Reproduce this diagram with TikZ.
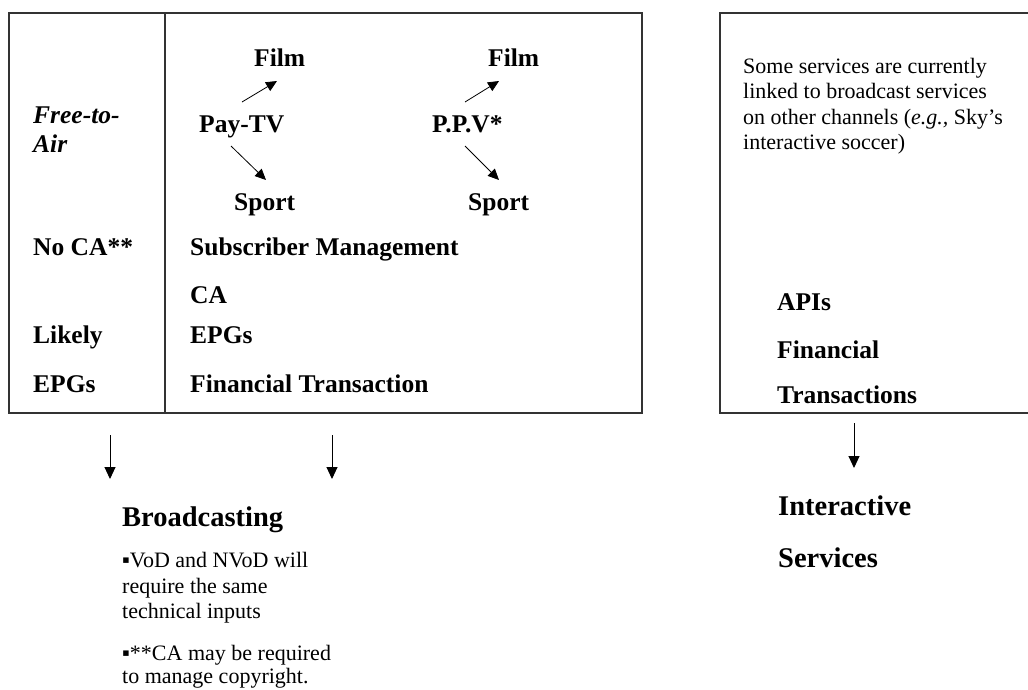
\documentclass[tikz,border=0pt]{standalone}
\usepackage{fontspec}
\setmainfont{Liberation Serif}
\usetikzlibrary{arrows.meta}
\begin{document}
\begin{tikzpicture}[x=1pt,y=-1pt,
  boxline/.style={draw=black!80, line width=1.6pt},
  bt/.style={anchor=base west, inner sep=0pt, font=\fontsize{25.5}{30}\selectfont\bfseries},
  bit/.style={anchor=base west, inner sep=0pt, font=\fontsize{25.5}{30}\selectfont\bfseries\itshape},
  big/.style={anchor=base west, inner sep=0pt, font=\fontsize{28.5}{32}\selectfont\bfseries},
  rt/.style={anchor=base west, inner sep=0pt, font=\fontsize{22}{25.5}\selectfont},
  rtblock/.style={anchor=north west, inner sep=0pt, align=left, font=\fontsize{22}{25.5}\selectfont},
  smallarr/.style={-{Triangle[length=11pt,width=10pt]}, line width=0.8pt},
  bigarr/.style={-{Triangle[length=12pt,width=11pt]}, line width=1pt}
]
\useasboundingbox (0,0) rectangle (1028,689);
\fill[white] (0,0) rectangle (1028,689);

% boxes
\draw[boxline] (9,13) rectangle (642,413);
\draw[boxline] (165,13) -- (165,413);
\draw[boxline] (1030,13) -- (720,13) -- (720,413) -- (1030,413);

% left column
\node[bit] (fta1) at (33,123) {Free-to-};
\node[bit] (fta2) at (33,152) {Air};
\node[bt] (noca) at (33,255) {No CA**};
\node[bt] (likely) at (33,343) {Likely};
\node[bt] (epgl) at (33,392) {EPGs};

% pay-tv group
\node[bt] (film1) at (254,66) {Film};
\node[bt] (paytv) at (199,132) {Pay-TV};
\node[bt] (sport1) at (234,210) {Sport};
\coordinate (a1s) at (242,102); \coordinate (a1e) at (277,81);
\coordinate (a2s) at (231,146); \coordinate (a2e) at (266,180);
\draw[smallarr] (a1s) -- (a1e);
\draw[smallarr] (a2s) -- (a2e);

% ppv group
\node[bt] (film2) at (488,66) {Film};
\node[bt] (ppv) at (432,132) {P.P.V*};
\node[bt] (sport2) at (468,210) {Sport};
\coordinate (b1s) at (465,102); \coordinate (b1e) at (499,81);
\coordinate (b2s) at (465,146); \coordinate (b2e) at (499,180);
\draw[smallarr] (b1s) -- (b1e);
\draw[smallarr] (b2s) -- (b2e);

% middle list
\node[bt] (subm) at (190,255) {Subscriber Management};
\node[bt] (ca) at (190,303) {CA};
\node[bt] (epgm) at (190,343) {EPGs};
\node[bt] (fint) at (190,392) {Financial Transaction};

% right box
\node[rtblock] (note) at (743,58) {Some services are currently\\linked to broadcast services\\on other channels (\textit{e.g.,} Sky’s\\interactive soccer)};
\node[bt] (apis) at (777,310) {APIs};
\node[bt] (fin) at (777,358) {Financial};
\node[bt] (trans) at (777,403) {Transactions};

% arrows below
\coordinate (l1s) at (110,435); \coordinate (l1e) at (110,479);
\coordinate (l2s) at (332,435); \coordinate (l2e) at (332,479);
\coordinate (r1s) at (854,423); \coordinate (r1e) at (854,468);
\draw[bigarr] (l1s) -- (l1e);
\draw[bigarr] (l2s) -- (l2e);
\draw[bigarr] (r1s) -- (r1e);

% broadcasting
\node[big] (broad) at (122,526) {Broadcasting};
\node[rt] (b1) at (122,567) {▪VoD and NVoD will};
\node[rt] (b2) at (122,593) {require the same};
\node[rt] (b3) at (122,618) {technical inputs};
\node[rt] (b4) at (122,660) {▪**CA may be required};
\node[rt] (b5) at (122,683) {to manage copyright.};

% interactive services
\node[big] (inter) at (778,515) {Interactive};
\node[big] (serv) at (778,567) {Services};
\end{tikzpicture}
\end{document}
